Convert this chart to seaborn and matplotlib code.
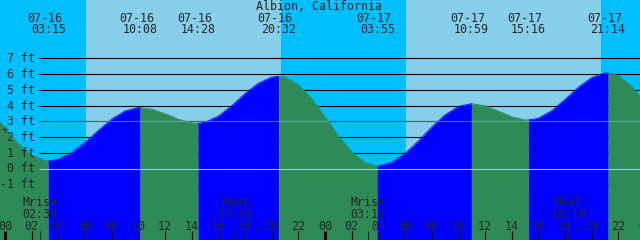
'''
Tide graph for Albion, California (07-16 .. 07-17)
'''

import numpy as np
import pandas as pd
import seaborn as sns
from matplotlib import pyplot as plt

title = "Albion, California"

# tide height in ft; hour 0 = 07-16 00:00
hours = [-1, 0, 1, 2, 3, 3.25, 4, 5, 6, 7, 8, 9, 10, 10.13, 11, 12, 13, 14, 14.47,
         15, 16, 17, 18, 19, 20, 20.53, 21, 22, 23, 24, 25, 26, 27, 27.92, 28, 29,
         30, 31, 32, 33, 34, 34.98, 36, 37, 38, 39, 39.27, 40, 41, 42, 43, 44, 45,
         45.23, 46, 47, 48]
heights = [3.63, 2.55, 1.56, 0.84, 0.50, 0.48, 0.58, 0.99, 1.65, 2.41, 3.13, 3.65, 3.87, 3.87,
           3.77, 3.48, 3.13, 2.90, 2.87, 2.93, 3.32, 3.98, 4.75, 5.41, 5.80, 5.86, 5.80,
           5.32, 4.43, 3.28, 2.08, 1.05, 0.37, 0.15, 0.15, 0.38, 0.94, 1.74, 2.62, 3.40,
           3.93, 4.12, 3.98, 3.65, 3.29, 3.09, 3.08, 3.19, 3.66, 4.38, 5.15, 5.77, 6.06,
           6.07, 5.91, 5.23, 4.17]

# highs and lows
event_hours = [3.25, 10.13, 14.47, 20.53, 27.92, 34.98, 39.27, 45.23]
event_kind = ['low', 'high', 'low', 'high', 'low', 'high', 'low', 'high']
event_dates = ['07-16', '07-16', '07-16', '07-16', '07-17', '07-17', '07-17', '07-17']
event_times = ['03:15', '10:08', '14:28', '20:32', '03:55', '10:59', '15:16', '21:14']

# moon rise / set
moon_hours = [2.6, 17.27, 27.22, 42.3]
moon_names = ['Mrise', 'Mset', 'Mrise', 'Mset']
moon_times = ['02:36', '17:16', '03:13', '18:18']

# daylight (sunrise, sunset)
sunrise = [6.08, 30.05]
sunset = [20.70, 44.70]

depth_levels = [7, 6, 5, 4, 3, 2, 1, 0, -1]
hour_ticks = list(range(0, 50, 2))

NIGHT = '#00bfff'
DAY = '#87ceeb'
FLOOD = '#0000ff'
EBB = '#2e8b57'

# pixel <-> data mapping of the 640x240 picture
X0, PXH = 5.0, 13.333   # pixel of hour 0, pixels per hour
Y0, PXF = 168.5, 15.75  # pixel of 0 ft, pixels per ft


def hx(px):
    return (px - X0) / PXH


def fy(py):
    return (Y0 - py) / PXF


def main():
    sns.set_style('white')
    plt.rcParams['font.family'] = ['DejaVu Sans Mono']
    fs = 8.4

    fig = plt.figure(figsize=(6.4, 2.4), dpi=100)
    ax = fig.add_axes([0, 0, 1, 1])
    x_lo, x_hi = hx(0), hx(640)
    y_lo, y_hi = fy(240), fy(0)

    # night / day background
    ax.axvspan(x_lo, x_hi, color=NIGHT, lw=0, zorder=0)
    for a, b in zip(sunrise, sunset):
        ax.axvspan(a, b, color=DAY, lw=0, zorder=0)

    # depth lines (behind the water)
    ax.hlines(depth_levels, hx(39), x_hi, color='black', lw=0.8, zorder=1)

    # split the curve into flood / ebb pieces at every high and low
    t = np.array(hours)
    h = np.array(heights)
    bounds = [t[0]] + event_hours + [t[-1]]
    kinds = event_kind + ['low']
    rows = []
    for i in range(len(bounds) - 1):
        m = (t >= bounds[i] - 1e-9) & (t <= bounds[i + 1] + 1e-9)
        phase = 'flood' if kinds[i] == 'high' else 'ebb'
        for tt, hh in zip(t[m], h[m]):
            rows.append((tt, hh, phase, i))
    df = pd.DataFrame(rows, columns=['hour', 'height', 'phase', 'seg'])

    palette = {'flood': FLOOD, 'ebb': EBB}
    for seg, g in df.groupby('seg'):
        ax.fill_between(g['hour'], g['height'], y_lo, color=palette[g['phase'].iloc[0]],
                        lw=0, zorder=2)
    sns.lineplot(data=df, x='hour', y='height', hue='phase', units='seg', estimator=None,
                 palette=palette, lw=0.6, legend=False, ax=ax, zorder=2)

    # datum and mean sea level lines over the water
    ax.hlines(0, hx(39), x_hi, color=DAY, lw=0.8, zorder=3)
    ax.hlines(3, hx(39), x_hi, color=DAY, lw=0.8, alpha=0.5, zorder=3)

    # depth labels
    for lev in depth_levels:
        ax.text(hx(35.5), fy(Y0 - lev * PXF + 4), f'{lev} ft', ha='right', va='baseline',
                fontsize=fs, zorder=4)
    ax.text(hx(5), fy(134), '+', ha='center', va='baseline', fontsize=fs, zorder=4)

    # title and high / low labels
    ax.text(hx(319.5), fy(10), title, ha='center', va='baseline', fontsize=fs, zorder=4)
    for eh, d, tm in zip(event_hours, event_dates, event_times):
        ax.text(eh - 3.5 / PXH, fy(21.7), d, ha='center', va='baseline', fontsize=fs, zorder=4)
        ax.text(eh, fy(33.2), tm, ha='center', va='baseline', fontsize=fs, zorder=4)

    # moon events
    for mh, name, tm in zip(moon_hours, moon_names, moon_times):
        ax.text(mh, fy(206), name, ha='center', va='baseline', fontsize=fs, zorder=4)
        ax.text(mh, fy(218), tm, ha='center', va='baseline', fontsize=fs, zorder=4)
    ax.vlines(moon_hours, y_lo, fy(231), color='#222222', lw=0.7, zorder=4)

    # hour ticks along the bottom
    for th in hour_ticks:
        ax.text(th, fy(230), f'{th % 24:02d}', ha='center', va='baseline', fontsize=fs, zorder=4)
        ax.vlines(th, y_lo, fy(231), color='black', lw=2.2 if th % 24 == 0 else 0.8, zorder=4)

    ax.set_xlim(x_lo, x_hi)
    ax.set_ylim(y_lo, y_hi)
    ax.set_axis_off()
    fig.savefig('out.png', dpi=100)
    plt.close(fig)


if __name__ == "__main__":
    main()
